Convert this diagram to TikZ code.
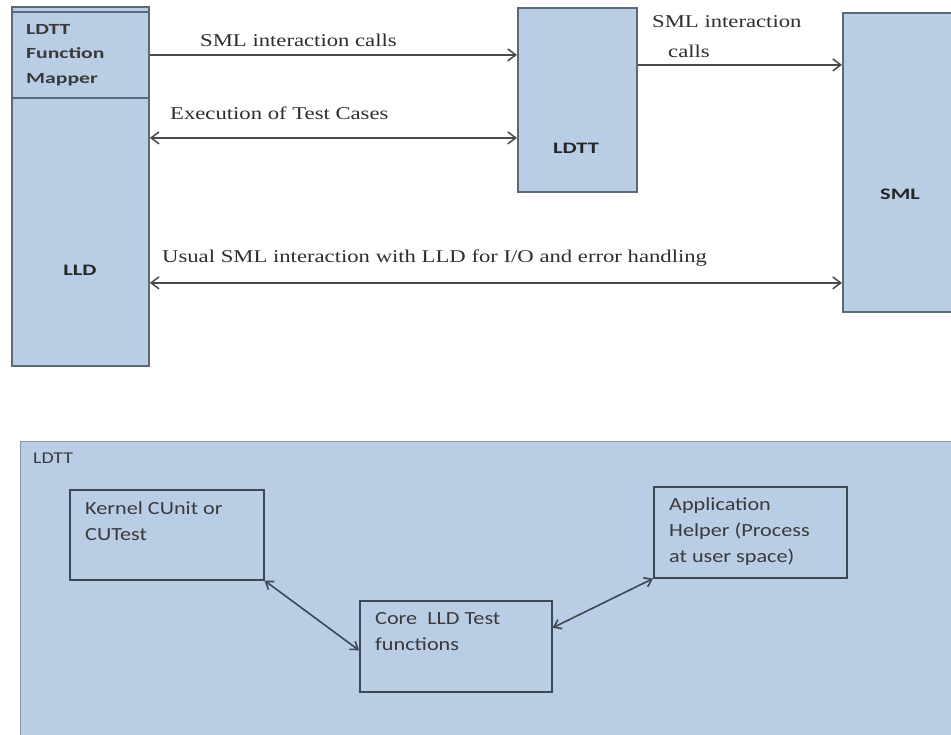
\documentclass[tikz,border=0pt]{standalone}
\usepackage{fontspec}
\setmainfont{Liberation Serif}
\newfontfamily\serifw[FakeStretch=1.26]{Liberation Serif}
\newfontfamily\sansw[FakeStretch=1.2]{Carlito}
\newfontfamily\sanswb[FakeStretch=1.4]{Carlito}
\usetikzlibrary{arrows.meta,calc}
\definecolor{boxfill}{HTML}{B9CDE5}
\definecolor{topline}{HTML}{5A6878}
\definecolor{inline}{HTML}{3E4852}
\definecolor{bigline}{HTML}{8A949E}
\definecolor{arrowgray}{HTML}{4A4A4A}
\definecolor{labelgray}{HTML}{2E2E2E}
\definecolor{txtgray}{HTML}{3A3A3A}
\tikzset{
  topbox/.style={draw=topline, fill=boxfill, line width=1.8pt, rectangle, inner sep=0pt, anchor=north west},
  inbox/.style={draw=inline, fill=boxfill, line width=1.6pt, rectangle, inner sep=0pt, anchor=north west},
  bigbox/.style={draw=bigline, fill=boxfill, line width=1.4pt, rectangle, inner sep=0pt, anchor=north west},
  tipbig/.tip={Straight Barb[length=8pt,width=12pt]},
  tipsmall/.tip={Straight Barb[length=7pt,width=10pt]},
  conn/.style={draw=arrowgray, line width=1.5pt, -tipbig},
  biconn/.style={draw=arrowgray, line width=1.5pt, tipbig-tipbig},
  inconn/.style={draw=inline, line width=1.6pt, tipsmall-tipsmall},
  lbl/.style={font=\serifw\fontsize{18}{30}\selectfont, text=labelgray, inner sep=0pt, anchor=base west, align=left},
  btxt/.style={font=\sansw\fontsize{18.5}{26}\selectfont, text=txtgray, inner sep=0pt, anchor=north west, align=left},
  mtxt/.style={font=\sanswb\bfseries\fontsize{15.5}{24.5}\selectfont, text=txtgray, inner sep=0pt, anchor=north west, align=left},
  boldlbl/.style={font=\sanswb\bfseries\fontsize{16}{20}\selectfont, text=black!85, inner sep=0pt}
}
\begin{document}
\begin{tikzpicture}[x=1pt,y=-1pt]
\useasboundingbox (0,0) rectangle (951,735);
\fill[white] (0,0) rectangle (951,735);
% top part
\node[topbox, minimum width=137pt, minimum height=359pt] (lld) at (11,6) {};
\node[topbox, minimum width=137pt, minimum height=86pt] (mapper) at (11,11) {};
\node[topbox, minimum width=119pt, minimum height=184pt] (ldtt) at (517,7) {};
\node[topbox, minimum width=130pt, minimum height=299pt] (sml) at (842,12) {};
\node[mtxt] (mappertxt) at (26,24) {LDTT\\Function\\Mapper};
\node[boldlbl] (lldtxt) at (80,270) {LLD};
\node[boldlbl] (ldtttxt) at (576,148) {LDTT};
\node[boldlbl] (smltxt) at (900,194) {SML};
% connectors top
\draw[conn] (mapper.east) -- (mapper.east -| ldtt.west);
\coordinate (exl) at ([yshift=-38pt]ldtt.west);
\draw[biconn] (exl -| lld.east) -- (exl);
\coordinate (ls) at ([yshift=35pt]ldtt.east);
\draw[conn] (ls) -- (ls -| sml.west);
\coordinate (us) at ([yshift=-120.5pt]sml.west);
\draw[biconn] (us -| lld.east) -- (us);
\node[lbl] (l1) at (200,47) {SML interaction calls};
\node[lbl] (l2) at (170,120) {Execution of Test Cases};
\node[lbl] (l3) at (652,58) {SML interaction\\\hspace*{16pt}calls};
\node[lbl] (l4) at (162,263) {Usual SML interaction with LLD for I/O and error handling};
% bottom part
\node[bigbox, minimum width=960pt, minimum height=320pt] (big) at (20,441) {};
\node[btxt, font=\sansw\fontsize{16.5}{20}\selectfont] (bigtxt) at (33,453) {LDTT};
\node[inbox, minimum width=194pt, minimum height=90pt] (kern) at (69,489) {};
\node[inbox, minimum width=193pt, minimum height=91pt] (app) at (653,486) {};
\node[inbox, minimum width=192pt, minimum height=91pt] (core) at (359,600) {};
\node[btxt] (kerntxt) at (85,501) {Kernel CUnit or\\CUTest};
\node[btxt] (apptxt) at (669,497) {Application\\Helper (Process\\at user space)};
\node[btxt] (coretxt) at (375,612) {Core\ \ LLD Test\\functions};
\draw[inconn] (kern.south east) -- ([yshift=-4pt]core.west);
\draw[inconn] ([yshift=18.5pt]core.east) -- (app.south west);
\end{tikzpicture}
\end{document}
